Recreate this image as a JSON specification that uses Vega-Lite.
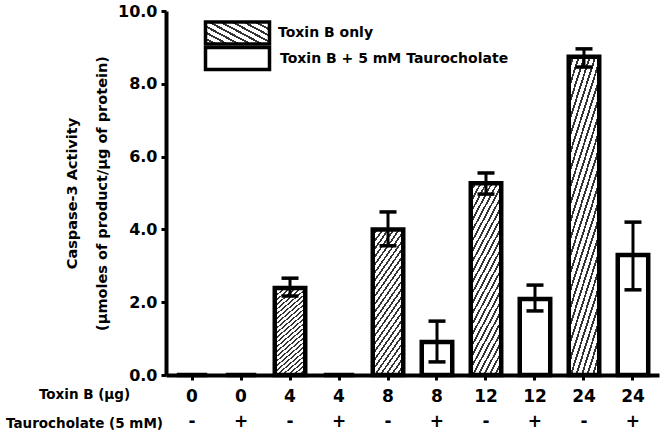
{
  "$schema": "https://vega.github.io/schema/vega-lite/v6.json",
  "width": 493,
  "height": 364,
  "autosize": "none",
  "padding": {"left": 166, "top": 11, "right": 5, "bottom": 65},
  "background": "white",
  "config": {
    "view": {"stroke": null},
    "axis": {"grid": false, "domainColor": "black", "domainWidth": 4, "tickColor": "black", "tickWidth": 3, "tickSize": 5, "labelColor": "black", "titleColor": "black", "labelFont": "DejaVu Sans", "labelFontWeight": "bold", "titleFont": "DejaVu Sans", "titleFontWeight": "bold"},
    "legend": {"orient": "none", "title": null, "padding": 0, "symbolType": "M-3.2,-1.1H3.2V1.1H-3.2Z", "symbolSize": 400, "symbolStrokeColor": "black", "symbolStrokeWidth": 3.5, "symbolOpacity": 1, "labelFont": "DejaVu Sans", "labelFontWeight": "bold", "labelFontSize": 14, "labelColor": "black", "labelLimit": 0}
  },
  "resolve": {"scale": {"stroke": "independent"}, "legend": {"stroke": "independent"}},
  "data": {
    "values": [
      {"cond": "0|-", "toxin": "0", "taurocholate": "-", "group": "Toxin B only", "value": 0, "lo": null, "hi": null},
      {"cond": "0|+", "toxin": "0", "taurocholate": "+", "group": "Toxin B + 5 mM Taurocholate", "value": 0, "lo": null, "hi": null},
      {"cond": "4|-", "toxin": "4", "taurocholate": "-", "group": "Toxin B only", "value": 2.39, "lo": 2.17, "hi": 2.66},
      {"cond": "4|+", "toxin": "4", "taurocholate": "+", "group": "Toxin B + 5 mM Taurocholate", "value": 0, "lo": null, "hi": null},
      {"cond": "8|-", "toxin": "8", "taurocholate": "-", "group": "Toxin B only", "value": 4.0, "lo": 3.55, "hi": 4.48},
      {"cond": "8|+", "toxin": "8", "taurocholate": "+", "group": "Toxin B + 5 mM Taurocholate", "value": 0.91, "lo": 0.36, "hi": 1.48},
      {"cond": "12|-", "toxin": "12", "taurocholate": "-", "group": "Toxin B only", "value": 5.27, "lo": 4.97, "hi": 5.55},
      {"cond": "12|+", "toxin": "12", "taurocholate": "+", "group": "Toxin B + 5 mM Taurocholate", "value": 2.09, "lo": 1.76, "hi": 2.47},
      {"cond": "24|-", "toxin": "24", "taurocholate": "-", "group": "Toxin B only", "value": 8.74, "lo": 8.46, "hi": 8.96},
      {"cond": "24|+", "toxin": "24", "taurocholate": "+", "group": "Toxin B + 5 mM Taurocholate", "value": 3.3, "lo": 2.34, "hi": 4.2}
    ]
  },
  "encoding": {
    "x": {
      "field": "cond", "type": "nominal", "sort": null,
      "scale": {"domain": ["0|-", "0|+", "4|-", "4|+", "8|-", "8|+", "12|-", "12|+", "24|-", "24|+"], "paddingInner": 0.378, "paddingOuter": 0.22},
      "axis": {
        "labelExpr": "split(datum.value, '|')",
        "labelAngle": 0, "labelFontSize": 17, "labelLineHeight": 25, "labelBaseline": "top", "labelPadding": 8, "labelOverlap": false,
        "title": ["Toxin B (μg)", "Taurocholate (5 mM)"],
        "titleFontSize": 13.5, "titleLineHeight": 29, "titleAlign": "center", "titleBaseline": "top", "titleX": -82, "titleY": 12, "titleAngle": 0
      }
    }
  },
  "layer": [
    {
      "transform": [{"filter": "datum.group === 'Toxin B only'"}],
      "mark": {
        "type": "bar", "strokeWidth": 4.5,
        "fill": {"gradient": "linear", "x1": 0, "y1": 0, "x2": 0.358, "y2": 1.193, "stops": [
          {"offset": 0, "color": "white"}, {"offset": 0.027, "color": "white"}, {"offset": 0.027, "color": "#333"}, {"offset": 0.0417, "color": "#333"},
          {"offset": 0.0417, "color": "white"}, {"offset": 0.0687, "color": "white"}, {"offset": 0.0687, "color": "#333"}, {"offset": 0.0833, "color": "#333"},
          {"offset": 0.0833, "color": "white"}, {"offset": 0.1103, "color": "white"}, {"offset": 0.1103, "color": "#333"}, {"offset": 0.125, "color": "#333"},
          {"offset": 0.125, "color": "white"}, {"offset": 0.152, "color": "white"}, {"offset": 0.152, "color": "#333"}, {"offset": 0.1667, "color": "#333"},
          {"offset": 0.1667, "color": "white"}, {"offset": 0.1937, "color": "white"}, {"offset": 0.1937, "color": "#333"}, {"offset": 0.2083, "color": "#333"},
          {"offset": 0.2083, "color": "white"}, {"offset": 0.2353, "color": "white"}, {"offset": 0.2353, "color": "#333"}, {"offset": 0.25, "color": "#333"},
          {"offset": 0.25, "color": "white"}, {"offset": 0.277, "color": "white"}, {"offset": 0.277, "color": "#333"}, {"offset": 0.2917, "color": "#333"},
          {"offset": 0.2917, "color": "white"}, {"offset": 0.3187, "color": "white"}, {"offset": 0.3187, "color": "#333"}, {"offset": 0.3333, "color": "#333"},
          {"offset": 0.3333, "color": "white"}, {"offset": 0.3603, "color": "white"}, {"offset": 0.3603, "color": "#333"}, {"offset": 0.375, "color": "#333"},
          {"offset": 0.375, "color": "white"}, {"offset": 0.402, "color": "white"}, {"offset": 0.402, "color": "#333"}, {"offset": 0.4167, "color": "#333"},
          {"offset": 0.4167, "color": "white"}, {"offset": 0.4437, "color": "white"}, {"offset": 0.4437, "color": "#333"}, {"offset": 0.4583, "color": "#333"},
          {"offset": 0.4583, "color": "white"}, {"offset": 0.4853, "color": "white"}, {"offset": 0.4853, "color": "#333"}, {"offset": 0.5, "color": "#333"},
          {"offset": 0.5, "color": "white"}, {"offset": 0.527, "color": "white"}, {"offset": 0.527, "color": "#333"}, {"offset": 0.5417, "color": "#333"},
          {"offset": 0.5417, "color": "white"}, {"offset": 0.5687, "color": "white"}, {"offset": 0.5687, "color": "#333"}, {"offset": 0.5833, "color": "#333"},
          {"offset": 0.5833, "color": "white"}, {"offset": 0.6103, "color": "white"}, {"offset": 0.6103, "color": "#333"}, {"offset": 0.625, "color": "#333"},
          {"offset": 0.625, "color": "white"}, {"offset": 0.652, "color": "white"}, {"offset": 0.652, "color": "#333"}, {"offset": 0.6667, "color": "#333"},
          {"offset": 0.6667, "color": "white"}, {"offset": 0.6937, "color": "white"}, {"offset": 0.6937, "color": "#333"}, {"offset": 0.7083, "color": "#333"},
          {"offset": 0.7083, "color": "white"}, {"offset": 0.7353, "color": "white"}, {"offset": 0.7353, "color": "#333"}, {"offset": 0.75, "color": "#333"},
          {"offset": 0.75, "color": "white"}, {"offset": 0.777, "color": "white"}, {"offset": 0.777, "color": "#333"}, {"offset": 0.7917, "color": "#333"},
          {"offset": 0.7917, "color": "white"}, {"offset": 0.8187, "color": "white"}, {"offset": 0.8187, "color": "#333"}, {"offset": 0.8333, "color": "#333"},
          {"offset": 0.8333, "color": "white"}, {"offset": 0.8603, "color": "white"}, {"offset": 0.8603, "color": "#333"}, {"offset": 0.875, "color": "#333"},
          {"offset": 0.875, "color": "white"}, {"offset": 0.902, "color": "white"}, {"offset": 0.902, "color": "#333"}, {"offset": 0.9167, "color": "#333"},
          {"offset": 0.9167, "color": "white"}, {"offset": 0.9437, "color": "white"}, {"offset": 0.9437, "color": "#333"}, {"offset": 0.9583, "color": "#333"},
          {"offset": 0.9583, "color": "white"}, {"offset": 0.9853, "color": "white"}, {"offset": 0.9853, "color": "#333"}, {"offset": 1, "color": "#333"}
        ]}
      },
      "encoding": {
        "y": {
          "field": "value", "type": "quantitative",
          "scale": {"domain": [0, 10], "nice": false},
          "axis": {
            "values": [0, 2, 4, 6, 8, 10], "format": ".1f", "labelFontSize": 16, "labelPadding": 4,
            "title": ["Caspase-3 Activity", "(μmoles of product/μg of protein)"],
            "titleFontSize": 14.5, "titleLineHeight": 30, "titleAngle": -90, "titleAlign": "center", "titleBaseline": "top", "titleX": -101, "titleY": 182
          }
        },
        "stroke": {
          "field": "group", "type": "nominal",
          "scale": {"domain": ["Toxin B only"], "range": ["black"]},
          "legend": {
            "legendX": 59.5, "legendY": 10, "labelOffset": 28.5,
            "symbolFillColor": {"gradient": "linear", "x1": 0, "y1": 0, "x2": 1.154, "y2": 0.2308, "stops": [
              {"offset": 0, "color": "white"}, {"offset": 0.037, "color": "white"}, {"offset": 0.037, "color": "#333"}, {"offset": 0.0556, "color": "#333"},
              {"offset": 0.0556, "color": "white"}, {"offset": 0.0926, "color": "white"}, {"offset": 0.0926, "color": "#333"}, {"offset": 0.1111, "color": "#333"},
              {"offset": 0.1111, "color": "white"}, {"offset": 0.1481, "color": "white"}, {"offset": 0.1481, "color": "#333"}, {"offset": 0.1667, "color": "#333"},
              {"offset": 0.1667, "color": "white"}, {"offset": 0.2037, "color": "white"}, {"offset": 0.2037, "color": "#333"}, {"offset": 0.2222, "color": "#333"},
              {"offset": 0.2222, "color": "white"}, {"offset": 0.2593, "color": "white"}, {"offset": 0.2593, "color": "#333"}, {"offset": 0.2778, "color": "#333"},
              {"offset": 0.2778, "color": "white"}, {"offset": 0.3148, "color": "white"}, {"offset": 0.3148, "color": "#333"}, {"offset": 0.3333, "color": "#333"},
              {"offset": 0.3333, "color": "white"}, {"offset": 0.3704, "color": "white"}, {"offset": 0.3704, "color": "#333"}, {"offset": 0.3889, "color": "#333"},
              {"offset": 0.3889, "color": "white"}, {"offset": 0.4259, "color": "white"}, {"offset": 0.4259, "color": "#333"}, {"offset": 0.4444, "color": "#333"},
              {"offset": 0.4444, "color": "white"}, {"offset": 0.4815, "color": "white"}, {"offset": 0.4815, "color": "#333"}, {"offset": 0.5, "color": "#333"},
              {"offset": 0.5, "color": "white"}, {"offset": 0.537, "color": "white"}, {"offset": 0.537, "color": "#333"}, {"offset": 0.5556, "color": "#333"},
              {"offset": 0.5556, "color": "white"}, {"offset": 0.5926, "color": "white"}, {"offset": 0.5926, "color": "#333"}, {"offset": 0.6111, "color": "#333"},
              {"offset": 0.6111, "color": "white"}, {"offset": 0.6481, "color": "white"}, {"offset": 0.6481, "color": "#333"}, {"offset": 0.6667, "color": "#333"},
              {"offset": 0.6667, "color": "white"}, {"offset": 0.7037, "color": "white"}, {"offset": 0.7037, "color": "#333"}, {"offset": 0.7222, "color": "#333"},
              {"offset": 0.7222, "color": "white"}, {"offset": 0.7593, "color": "white"}, {"offset": 0.7593, "color": "#333"}, {"offset": 0.7778, "color": "#333"},
              {"offset": 0.7778, "color": "white"}, {"offset": 0.8148, "color": "white"}, {"offset": 0.8148, "color": "#333"}, {"offset": 0.8333, "color": "#333"},
              {"offset": 0.8333, "color": "white"}, {"offset": 0.8704, "color": "white"}, {"offset": 0.8704, "color": "#333"}, {"offset": 0.8889, "color": "#333"},
              {"offset": 0.8889, "color": "white"}, {"offset": 0.9259, "color": "white"}, {"offset": 0.9259, "color": "#333"}, {"offset": 0.9444, "color": "#333"},
              {"offset": 0.9444, "color": "white"}, {"offset": 0.9815, "color": "white"}, {"offset": 0.9815, "color": "#333"}, {"offset": 1, "color": "#333"}
            ]}
          }
        }
      }
    },
    {
      "transform": [{"filter": "datum.group !== 'Toxin B only'"}],
      "mark": {"type": "bar", "strokeWidth": 4.5, "fill": "white"},
      "encoding": {
        "y": {"field": "value", "type": "quantitative"},
        "stroke": {
          "field": "group", "type": "nominal",
          "scale": {"domain": ["Toxin B + 5 mM Taurocholate"], "range": ["black"]},
          "legend": {"legendX": 59.5, "legendY": 35.5, "labelOffset": 30.5, "symbolFillColor": "white"}
        }
      }
    },
    {
      "mark": {"type": "rule", "color": "black", "strokeWidth": 3},
      "encoding": {
        "y": {"field": "lo", "type": "quantitative"},
        "y2": {"field": "hi"}
      }
    },
    {
      "mark": {"type": "tick", "color": "black", "size": 17, "thickness": 3.5, "opacity": 1},
      "encoding": {
        "y": {"field": "lo", "type": "quantitative"}
      }
    },
    {
      "mark": {"type": "tick", "color": "black", "size": 17, "thickness": 3.5, "opacity": 1},
      "encoding": {
        "y": {"field": "hi", "type": "quantitative"}
      }
    }
  ]
}
